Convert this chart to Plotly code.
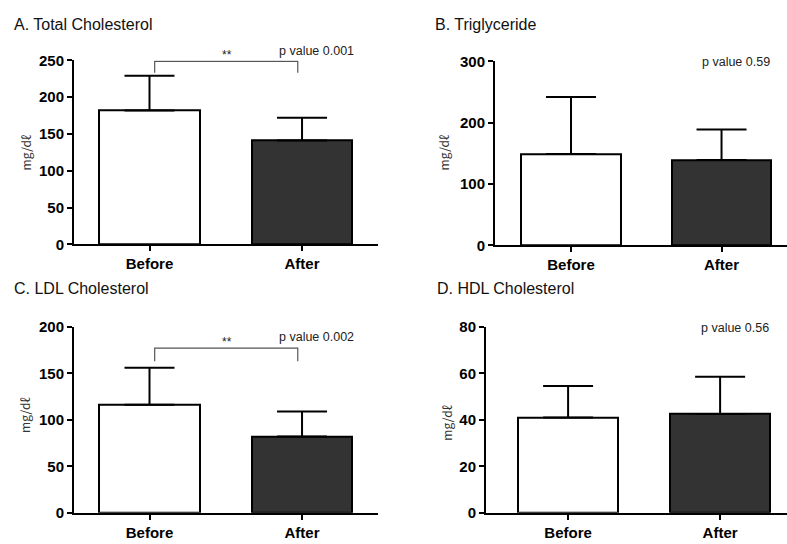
import plotly.graph_objects as go

W, H = 787, 544

categories = ["Before", "After"]
panel_titles = ["A. Total Cholesterol", "B. Triglyceride", "C. LDL Cholesterol", "D. HDL Cholesterol"]
p_labels = ["p value 0.001", "p value 0.59", "p value 0.002", "p value 0.56"]
y_label = "mg/dℓ"

tc_mean = [182, 141]
tc_sd = [47, 31]
tg_mean = [149, 139]
tg_sd = [93, 50]
ldl_mean = [116, 82]
ldl_sd = [40, 27]
hdl_mean = [41, 42.5]
hdl_sd = [13.5, 16]

tc_ticks = [0, 50, 100, 150, 200, 250]
tg_ticks = [0, 100, 200, 300]
ldl_ticks = [0, 50, 100, 150, 200]
hdl_ticks = [0, 20, 40, 60, 80]

means = [tc_mean, tg_mean, ldl_mean, hdl_mean]
sds = [tc_sd, tg_sd, ldl_sd, hdl_sd]
ticks = [tc_ticks, tg_ticks, ldl_ticks, hdl_ticks]

bar_fill = ["white", "#333333"]


def px(x):
    return x / W


def py(y):
    return 1 - y / H


# pixel layout of each panel: (x_axis_left, x_axis_right, y_zero_px, y_top_px, xrange)
panels = [
    (74, 378, 243, 53, [-0.495, 1.498]),
    (495, 787, 244, 54, [-0.505, 1.435]),
    (74, 378, 520, 328, [-0.495, 1.498]),
    (486, 787, 520, 328, [-0.54, 1.44]),
]

fig = go.Figure()
layout = dict(
    width=W, height=H, margin=dict(l=0, r=0, t=0, b=0),
    paper_bgcolor="white", plot_bgcolor="white", showlegend=False,
    bargap=0,
)

tickfont = dict(family="Liberation Sans, Arial", size=15, color="black", weight="bold")
annotations = []
shapes = []

for i in range(4):
    xl, xr, y0, y1, xr_range = panels[i]
    sfx = "" if i == 0 else str(i + 1)
    fig.add_trace(go.Bar(
        x=[0, 1], y=means[i],
        width=0.66,
        marker=dict(color=bar_fill, line=dict(color="black", width=2)),
        error_y=dict(type="data", symmetric=False, array=sds[i], arrayminus=[0, 0],
                     color="black", thickness=2, width=25),
        xaxis="x" + sfx, yaxis="y" + sfx,
        hoverinfo="skip",
    ))
    layout["xaxis" + sfx] = dict(
        domain=[px(xl), px(xr)], anchor="y" + sfx, range=xr_range,
        tickvals=[0, 1], ticktext=categories,
        showline=True, linecolor="black", linewidth=2,
        ticks="outside", ticklen=5, tickwidth=2, tickcolor="black",
        tickfont=dict(family="Liberation Sans, Arial", size=15, color="black", weight="bold"),
        showgrid=False, zeroline=False, fixedrange=True,
    )
    layout["yaxis" + sfx] = dict(
        domain=[py(y0), py(y1)], anchor="x" + sfx,
        range=[0, ticks[i][-1]], tickvals=ticks[i],
        showline=True, linecolor="black", linewidth=2,
        ticks="outside", ticklen=5, tickwidth=2, tickcolor="black",
        tickfont=tickfont, showgrid=False, zeroline=False,
    )

# panel titles
title_pos = [(12, 16), (433, 16), (12, 289), (435, 289)]
for (tx, ty), t in zip(title_pos, panel_titles):
    annotations.append(dict(x=px(tx), y=py(ty), xref="paper", yref="paper", text=t,
                            showarrow=False, xanchor="left", yanchor="middle",
                            font=dict(family="Liberation Sans, Arial", size=16, color="#111111")))

# y labels
ylab_pos = [(25, 148), (443, 148), (25, 419), (447, 427)]
for (tx, ty) in ylab_pos:
    annotations.append(dict(x=px(tx), y=py(ty), xref="paper", yref="paper", text=y_label,
                            showarrow=False, textangle=-90, xanchor="center", yanchor="middle",
                            font=dict(family="Noto Sans CJK KR", size=12, color="#333333")))

# p values
p_pos = [(316, 43), (736, 55), (316, 339), (735, 329)]
for (tx, ty), t in zip(p_pos, p_labels):
    annotations.append(dict(x=px(tx), y=py(ty), xref="paper", yref="paper", text=t,
                            showarrow=False, xanchor="center", yanchor="middle",
                            font=dict(family="Liberation Sans, Arial", size=12.5, color="#222222")))

# significance brackets (panels A and C)
brackets = [(0, 248.7, 233, 47), (2, 177, 163, 344)]
for idx, ytop, ybot, star_y in brackets:
    sfx = "" if idx == 0 else str(idx + 1)
    xref, yref = "x" + sfx, "y" + sfx
    shapes.append(dict(type="path", xref=xref, yref=yref,
                       path=f"M 0.034,{ybot} L 0.034,{ytop} L 0.972,{ytop} L 0.972,{ybot}",
                       line=dict(color="#555555", width=1.2)))
    annotations.append(dict(x=px(227), y=py(star_y), xref="paper", yref="paper", text="**",
                            showarrow=False, xanchor="center", yanchor="middle",
                            font=dict(family="Liberation Sans, Arial", size=12, color="#222222")))

layout["annotations"] = annotations
layout["shapes"] = shapes
fig.update_layout(**layout)
fig.write_html(
    "out.html",
    config={"displayModeBar": False},
    post_script="document.body.style.margin='0';document.body.style.padding='0';document.body.style.overflow='hidden';",
)
